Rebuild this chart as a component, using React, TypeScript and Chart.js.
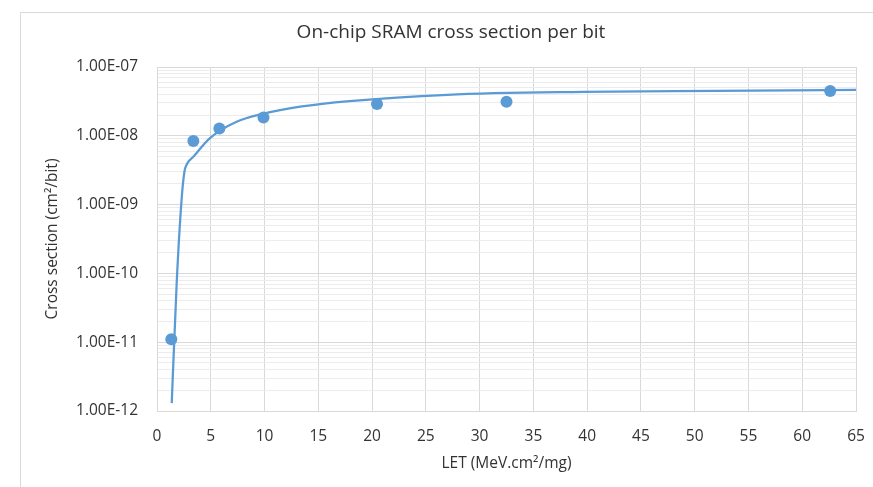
import React, { useEffect, useRef } from "react";
import { Chart, registerables } from "chart.js";

Chart.register(...registerables);

const TITLE = "On-chip SRAM cross section per bit";
const X_TITLE = "LET (MeV.cm²/mg)";
const Y_TITLE = "Cross section (cm²/bit)";

// measured points
const letValues = [1.33, 3.38, 5.8, 9.9, 20.46, 32.5, 62.6];
const crossSections = [1.1e-11, 8.4e-9, 1.28e-8, 1.85e-8, 2.9e-8, 3.12e-8, 4.48e-8];

// fitted trendline
const fitLet = [1.37, 1.83, 2.29, 2.55, 2.75, 3.4, 4.9, 7.4, 9.9, 13.3, 17.9, 27, 39.6, 52, 65];
const fitCross = [1.3e-12, 7.2e-11, 1.2e-9, 3.0e-9, 3.8e-9, 5.0e-9, 9.2e-9, 1.6e-8, 2.1e-8, 2.65e-8, 3.2e-8, 3.95e-8, 4.35e-8, 4.5e-8, 4.65e-8];

// axes
const xTicks = [0, 5, 10, 15, 20, 25, 30, 35, 40, 45, 50, 55, 60, 65];
const yDecades = [1e-12, 1e-11, 1e-10, 1e-9, 1e-8, 1e-7];
const yTickLabels = ["1.00E-12", "1.00E-11", "1.00E-10", "1.00E-09", "1.00E-08", "1.00E-07"];
const minorMultipliers = [2, 3, 4, 5, 6, 7, 8, 9];

const BLUE = "#5B9BD5";
const TEXT = "#333333";
const FONT = '"Open Sans", "Noto Sans", sans-serif';

export default function App() {
  const ref = useRef<HTMLCanvasElement>(null);

  useEffect(() => {
    if (!ref.current) return;

    const textPlugin = {
      id: "texts",
      afterDraw(chart: any) {
        const ctx = chart.ctx;
        const a = chart.chartArea;
        ctx.save();
        ctx.fillStyle = TEXT;
        ctx.textAlign = "center";
        ctx.textBaseline = "middle";
        ctx.font = `19px ${FONT}`;
        ctx.fillText(TITLE, 451, 33);
        ctx.font = `15.5px ${FONT}`;
        ctx.fillText(X_TITLE, (a.left + a.right) / 2, 464);
        ctx.translate(53, (a.top + a.bottom) / 2);
        ctx.rotate(-Math.PI / 2);
        ctx.fillText(Y_TITLE, 0, 0);
        ctx.restore();
      },
    };

    const isMajor = (v: number) => yDecades.some((d) => Math.abs(v - d) / d < 1e-6);

    const chart = new Chart(ref.current, {
      type: "scatter",
      data: {
        datasets: [
          {
            label: "Fit",
            data: fitLet.map((x, i) => ({ x, y: fitCross[i] })),
            showLine: true,
            borderColor: BLUE,
            backgroundColor: BLUE,
            borderWidth: 2.25,
            pointRadius: 0,
            cubicInterpolationMode: "monotone",
            order: 1,
          } as any,
          {
            label: "Data",
            data: letValues.map((x, i) => ({ x, y: crossSections[i] })),
            showLine: false,
            backgroundColor: BLUE,
            borderColor: BLUE,
            pointRadius: 6,
            borderWidth: 0,
            order: 0,
          },
        ],
      },
      options: {
        responsive: false,
        animation: false,
        layout: { padding: { left: 0, top: 67, right: 17, bottom: 0 } },
        plugins: {
          legend: { display: false },
          tooltip: { enabled: false },
          title: { display: false },
        },
        scales: {
          x: {
            type: "linear",
            min: 0,
            max: 65,
            afterBuildTicks: (scale: any) => {
              scale.ticks = xTicks.map((v) => ({ value: v }));
            },
            afterFit: (scale: any) => {
              scale.height = 76;
              scale.paddingLeft = 0;
              scale.paddingRight = 0;
            },
            ticks: {
              autoSkip: false,
              color: TEXT,
              font: { family: FONT, size: 15.5 },
              padding: 16,
              maxRotation: 0,
            },
            grid: { color: "#d9d9d9", drawTicks: false, lineWidth: 1 },
            border: { color: "#d9d9d9" },
          },
          y: {
            type: "logarithmic",
            min: 1e-12,
            max: 1e-7,
            afterBuildTicks: (scale: any) => {
              const t: any[] = [];
              yDecades.forEach((d, i) => {
                t.push({ value: d, major: true });
                if (i < yDecades.length - 1) {
                  minorMultipliers.forEach((m) => t.push({ value: m * d, major: false }));
                }
              });
              scale.ticks = t;
            },
            afterFit: (scale: any) => {
              scale.width = 157;
              scale.paddingTop = 0;
              scale.paddingBottom = 0;
            },
            ticks: {
              autoSkip: false,
              color: TEXT,
              font: { family: FONT, size: 15.5 },
              padding: 19,
              callback: (v: any) => {
                const idx = yDecades.findIndex((d) => Math.abs(v - d) / d < 1e-6);
                return idx >= 0 ? yTickLabels[idx] : "";
              },
            },
            grid: {
              drawTicks: false,
              color: (ctx: any) => (ctx.tick && isMajor(ctx.tick.value) ? "#d9d9d9" : "#ececec"),
              lineWidth: 1,
            },
            border: { color: "#d9d9d9" },
          },
        },
      },
      plugins: [textPlugin],
    });

    return () => chart.destroy();
  }, []);

  return (
    <div
      style={{
        position: "absolute",
        left: 0,
        top: 0,
        width: 873,
        height: 487,
        overflow: "hidden",
        background: "#fff",
      }}
    >
      <div
        style={{
          position: "absolute",
          left: 20,
          top: 12,
          width: 900,
          height: 600,
          border: "1px solid #d9d9d9",
        }}
      />
      <canvas
        ref={ref}
        width={873}
        height={487}
        style={{ position: "absolute", left: 0, top: 0, display: "block" }}
      />
    </div>
  );
}
